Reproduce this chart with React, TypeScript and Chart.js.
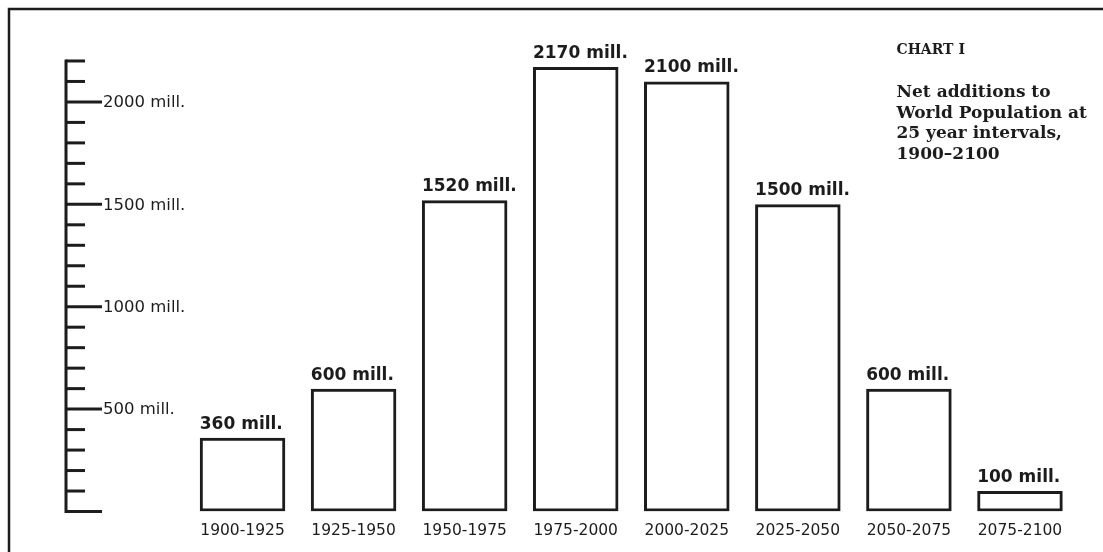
import React, { useEffect, useRef } from "react";
import { Chart, registerables } from "chart.js";

Chart.register(...registerables);

const categories = [
  "1900-1925",
  "1925-1950",
  "1950-1975",
  "1975-2000",
  "2000-2025",
  "2025-2050",
  "2050-2075",
  "2075-2100",
];
const additions = [360, 600, 1520, 2170, 2100, 1500, 600, 100];
const rulerTop = 2200;
const rulerStep = 100;
const rulerLabelValues = [500, 1000, 1500, 2000];
const chartNumber = "CHART I";
const titleLines = [
  "Net additions to",
  "World Population at",
  "25 year intervals,",
  "1900\u20132100",
];

const INK = "#1c1c1c";

const decorPlugin = {
  id: "decor",
  beforeDraw(chart: any) {
    const { ctx, width, height } = chart;
    ctx.save();
    ctx.fillStyle = "#ffffff";
    ctx.fillRect(0, 0, width, height);
    ctx.strokeStyle = INK;
    ctx.lineWidth = 2.5;
    ctx.beginPath();
    ctx.moveTo(9, height);
    ctx.lineTo(9, 9);
    ctx.lineTo(width, 9);
    ctx.stroke();
    ctx.restore();
  },
  afterDraw(chart: any) {
    const { ctx, chartArea } = chart;
    const y = chart.scales.y;
    ctx.save();
    // ruler axis
    const ax = chartArea.left - 121;
    ctx.strokeStyle = INK;
    ctx.lineWidth = 3;
    ctx.beginPath();
    ctx.moveTo(ax, y.getPixelForValue(0) + 1.5);
    ctx.lineTo(ax, y.getPixelForValue(rulerTop) - 1.5);
    ctx.stroke();
    for (let v = 0; v <= rulerTop; v += rulerStep) {
      const py = y.getPixelForValue(v);
      const major = v % 500 === 0;
      ctx.beginPath();
      ctx.moveTo(ax, py);
      ctx.lineTo(ax + (major ? 36 : 19), py);
      ctx.stroke();
    }
    ctx.fillStyle = INK;
    ctx.font = "16.5px 'DejaVu Sans'";
    ctx.textAlign = "left";
    ctx.textBaseline = "middle";
    rulerLabelValues.forEach((v) => {
      ctx.fillText(`${v} mill.`, ax + 37, y.getPixelForValue(v) + 1);
    });

    // bar labels
    const meta = chart.getDatasetMeta(0);
    ctx.font = "bold 17px 'DejaVu Sans'";
    ctx.textBaseline = "alphabetic";
    meta.data.forEach((bar: any, i: number) => {
      const left = bar.x - bar.width / 2;
      ctx.fillText(`${additions[i]} mill.`, left, bar.y - 9);
    });

    // title block
    const tx = chartArea.right - 179;
    ctx.font = "bold 14px 'DejaVu Serif'";
    ctx.fillText(chartNumber, tx, 54);
    ctx.font = "bold 17px 'DejaVu Serif'";
    titleLines.forEach((line, i) => {
      ctx.fillText(line, tx, 97 + i * 20.5);
    });
    ctx.restore();
  },
};

export default function App() {
  const ref = useRef<HTMLCanvasElement | null>(null);
  useEffect(() => {
    if (!ref.current) return;
    const chart = new Chart(ref.current, {
      type: "bar",
      data: {
        labels: categories,
        datasets: [
          {
            data: additions,
            backgroundColor: "rgba(255,255,255,0)",
            borderColor: INK,
            borderWidth: 3,
            borderSkipped: false,
            categoryPercentage: 1,
            barPercentage: 0.77,
          },
        ],
      },
      options: {
        responsive: false,
        animation: false,
        layout: { padding: { left: 187, right: 27.5, top: 40.5, bottom: 11.5 } },
        plugins: {
          legend: { display: false },
          tooltip: { enabled: false },
          title: { display: false },
        },
        scales: {
          x: {
            grid: { display: false, drawTicks: false },
            border: { display: false },
            afterFit: (scale: any) => {
              scale.height = 29;
            },
            ticks: {
              color: INK,
              padding: 10,
              font: { family: "'DejaVu Sans'", size: 15.5 },
              maxRotation: 0,
              autoSkip: false,
            },
          },
          y: {
            display: false,
            min: 0,
            max: 2300,
          },
        },
      },
      plugins: [decorPlugin],
    });
    return () => chart.destroy();
  }, []);
  return (
    <div style={{ position: "absolute", left: 0, top: 0, width: 1103, height: 552, background: "#fff" }}>
      <canvas ref={ref} width={1103} height={552} style={{ display: "block" }} />
    </div>
  );
}
